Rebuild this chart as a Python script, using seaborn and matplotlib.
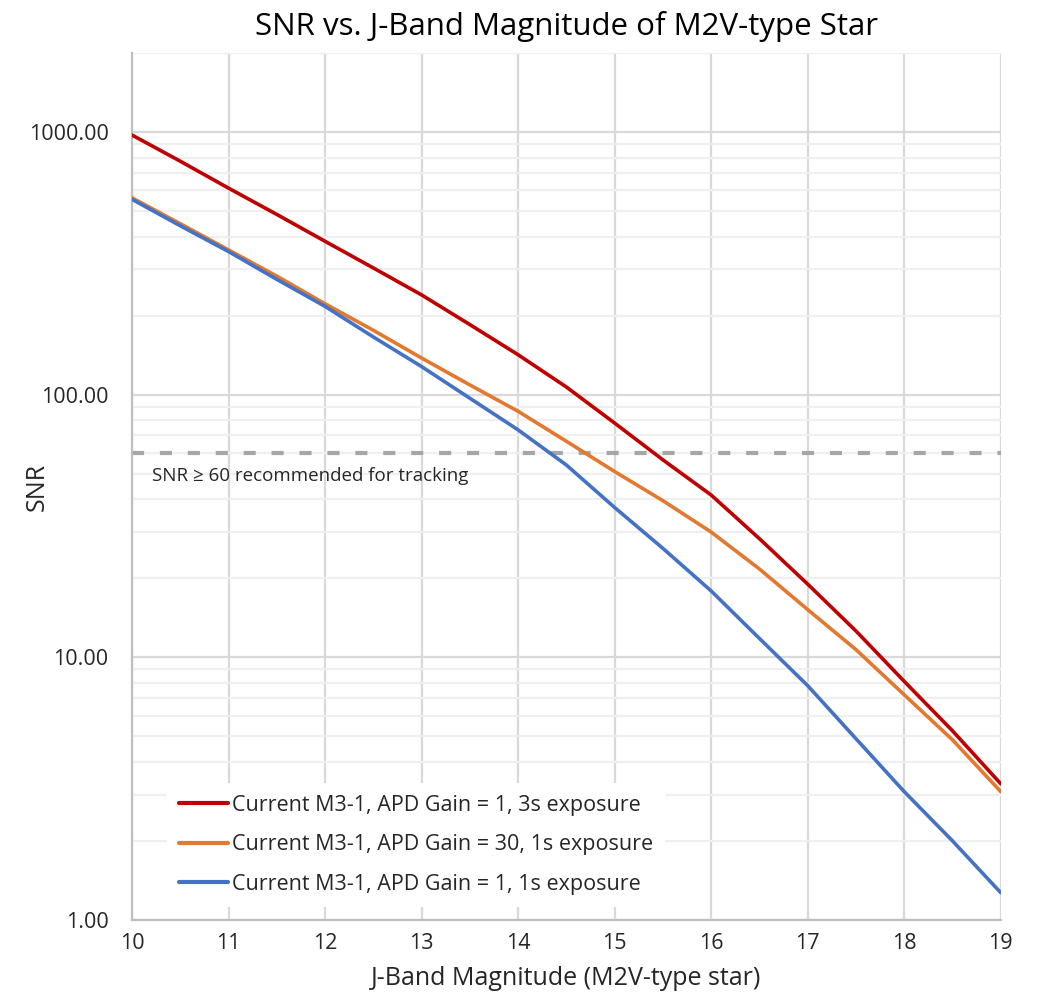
import matplotlib
matplotlib.use("Agg")
import matplotlib.pyplot as plt
import seaborn as sns
import pandas as pd
import numpy as np
from matplotlib.ticker import FixedLocator, FixedFormatter, LogLocator, NullFormatter

mag = [10, 10.5, 11, 11.5, 12, 12.5, 13, 13.5, 14, 14.5, 15, 15.5, 16, 16.5, 17, 17.5, 18, 18.5, 19]
snr_gain1_3s = [975, 775, 612, 486, 384, 304, 240, 185, 142, 107, 78, 56.5, 41.5, 28.3, 19.0, 12.6, 8.1, 5.25, 3.30]
snr_gain30_1s = [562, 448, 356, 283, 222, 176, 138, 109, 86.5, 66.5, 51, 39.5, 30, 21.7, 15.2, 10.7, 7.2, 4.85, 3.08]
snr_gain1_1s = [555, 440, 351, 275, 217, 166, 128, 97, 73.5, 54, 37.2, 26, 17.9, 11.8, 7.8, 4.9, 3.08, 2.0, 1.27]

labels = ["Current M3-1, APD Gain = 1, 3s exposure",
          "Current M3-1, APD Gain = 30, 1s exposure",
          "Current M3-1, APD Gain = 1, 1s exposure"]
colors = ["#C00000", "#E2792F", "#4472C4"]
threshold = 60
threshold_label = "SNR \u2265 60 recommended for tracking"
x_ticks = list(range(10, 20))
y_ticks = [1, 10, 100, 1000]
y_tick_labels = ["1.00", "10.00", "100.00", "1000.00"]

df = pd.DataFrame({
    "mag": mag * 3,
    "snr": snr_gain1_3s + snr_gain30_1s + snr_gain1_1s,
    "series": [labels[0]] * len(mag) + [labels[1]] * len(mag) + [labels[2]] * len(mag),
})

sns.set_style("white")
plt.rcParams['font.family'] = ['Open Sans', 'DejaVu Sans']

fig = plt.figure(figsize=(10.48, 10.02), dpi=100)
ax = fig.add_axes([0.126, 0.0818, 0.829, 0.8652])

ax.set_yscale("log")
ax.set_xlim(10, 19)
ax.set_ylim(1, 2000)

sns.lineplot(data=df, x="mag", y="snr", hue="series", palette=colors,
             hue_order=labels, linewidth=2.6, ax=ax, legend=True, zorder=3)

ax.axhline(threshold, color="#A6A6A6", linestyle=(0, (2.9, 3.8)), linewidth=3, zorder=2)
ax.text(10.21, threshold * 0.885, threshold_label, fontsize=13.5, color="#262626",
        va="top", ha="left", zorder=4)

ax.xaxis.set_major_locator(FixedLocator(x_ticks))
ax.yaxis.set_major_locator(FixedLocator(y_ticks))
ax.yaxis.set_major_formatter(FixedFormatter(y_tick_labels))
ax.yaxis.set_minor_locator(LogLocator(base=10, subs=np.arange(2, 10)))
ax.yaxis.set_minor_formatter(NullFormatter())

ax.grid(True, which="major", axis="both", color="#D9D9D9", linewidth=1.6, zorder=0)
ax.grid(True, which="minor", axis="y", color="#EFEFEF", linewidth=1.6, zorder=0)
ax.set_axisbelow(True)

for s in ["top", "right"]:
    ax.spines[s].set_visible(False)
for s in ["left", "bottom"]:
    ax.spines[s].set_color("#BFBFBF")
    ax.spines[s].set_linewidth(1.6)

ax.tick_params(axis="both", which="both", length=0, labelsize=15.5, colors="#262626")
ax.tick_params(axis="y", pad=17)
ax.tick_params(axis="x", pad=9)
ax.set_xlabel("J-Band Magnitude (M2V-type star)", fontsize=18, color="#262626", labelpad=9)
ax.set_ylabel("SNR", fontsize=18, color="#262626", va="center")
ax.yaxis.set_label_coords(-0.109, 0.5)
ax.set_title("SNR vs. J-Band Magnitude of M2V-type Star", fontsize=22.5, color="#000000", pad=13)

leg = ax.legend(loc="lower left", bbox_to_anchor=(0.028, 0.003), frameon=True, fontsize=15.5,
                handlelength=2.3, handletextpad=0.15, labelspacing=0.86, borderpad=0.55,
                fancybox=False, edgecolor="white", facecolor="white", framealpha=1)
leg.get_frame().set_linewidth(0)
for line in leg.get_lines():
    line.set_linewidth(3)
for t in leg.get_texts():
    t.set_color("#262626")

fig.savefig("out.png", dpi=100)
